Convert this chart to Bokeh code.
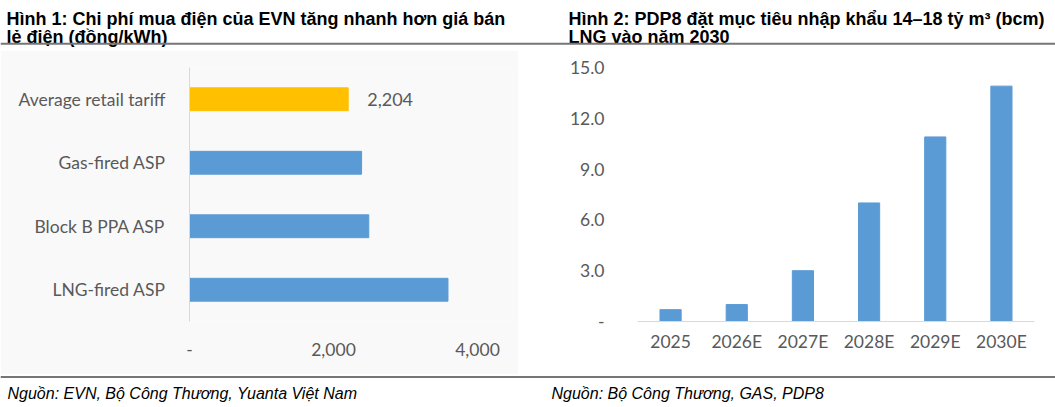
from bokeh.plotting import figure
from bokeh.models import Range1d, FactorRange, FixedTicker, NumeralTickFormatter, ColumnDataSource
from bokeh.layouts import column, row
from bokeh.core.properties import value
from bokeh.embed import file_html
from bokeh.resources import INLINE

# ---------------- data ----------------
title_left = ["Hình 1: Chi phí mua điện của EVN tăng nhanh hơn giá bán", "lẻ điện (đồng/kWh)"]
title_right = ["Hình 2: PDP8 đặt mục tiêu nhập khẩu 14–18 tỷ m³ (bcm)", "LNG vào năm 2030"]
source_left = "Nguồn: EVN, Bộ Công Thương, Yuanta Việt Nam"
source_right = "Nguồn: Bộ Công Thương, GAS, PDP8"

price_categories = ["Average retail tariff", "Gas-fired ASP", "Block B PPA ASP", "LNG-fired ASP"]
price_values = [2204, 2390, 2490, 3590]
price_ticks = [0, 2000, 4000]

lng_years = ["2025", "2026E", "2027E", "2028E", "2029E", "2030E"]
lng_import_bcm = [0.7, 1.0, 3.0, 7.0, 10.9, 13.9]
lng_ticks = [0, 3, 6, 9, 12, 15]

# ---------------- styles ----------------
BLUE = "#5B9BD5"
YELLOW = "#FFC000"
TXT = "#595959"
AXIS = "#D9D9D9"
RULE = "#767676"
price_colors = [YELLOW, BLUE, BLUE, BLUE]
TICK_FONT = "Lato"
TICK_SIZE = "17.5px"
HEAD_FONT = "Liberation Sans"

W = 1055
LEFT_W = 518
RIGHT_W = W - LEFT_W
HEAD_H = 50
MID_H = 324
FOOT_H = 31


def blank(width, height):
    p = figure(width=width, height=height, x_range=Range1d(0, width), y_range=Range1d(height, 0),
               x_axis_type=None, y_axis_type=None, toolbar_location=None, output_backend="svg",
               min_border=0)
    p.outline_line_color = None
    return p


def style_axis(ax, standoff):
    ax.major_tick_line_color = None
    ax.minor_tick_line_color = None
    ax.major_label_standoff = standoff
    ax.major_label_text_font = TICK_FONT
    ax.major_label_text_font_size = TICK_SIZE
    ax.major_label_text_color = TXT


# ---------------- header ----------------
head = blank(W, HEAD_H)
head.text(x=[6, 6, 568, 568], y=[18.5, 36.5, 18.5, 36.5], text=title_left + title_right,
          text_font=value(HEAD_FONT), text_font_style="bold", text_font_size="18px",
          text_color="#000000", text_baseline="alphabetic")
head.segment(x0=[0], y0=[43.2], x1=[W], y1=[43.2], line_color=RULE, line_width=2)

# ---------------- left chart ----------------
src_l = ColumnDataSource(dict(cat=price_categories, val=price_values, color=price_colors))
left = figure(width=LEFT_W, height=MID_H, y_range=FactorRange(factors=price_categories[::-1]),
              x_range=Range1d(0, 4500), toolbar_location=None, output_backend="svg",
              min_border_left=189, min_border_right=5, min_border_top=17, min_border_bottom=51)
left.outline_line_color = None
left.background_fill_color = "#f9f9f9"
left.border_fill_color = "#f9f9f9"
left.grid.visible = False
left.hbar(y="cat", right="val", left=0, height=0.36, color="color", source=src_l)
left.text(x=[price_values[0]], y=[price_categories[0]], text=[f"{price_values[0]:,}"],
          x_offset=19, text_baseline="middle", text_font=value(TICK_FONT),
          text_font_size="18px", text_color=TXT)
xa = left.xaxis[0]
xa.ticker = FixedTicker(ticks=price_ticks)
xa.formatter = NumeralTickFormatter(format="0,0")
xa.major_label_overrides = {0: "-"}
xa.axis_line_color = None
style_axis(xa, 15)
ya = left.yaxis[0]
ya.axis_line_color = AXIS
style_axis(ya, 18)

# ---------------- right chart ----------------
src_r = ColumnDataSource(dict(year=lng_years, val=lng_import_bcm))
right = figure(width=RIGHT_W, height=MID_H, x_range=FactorRange(factors=lng_years),
               y_range=Range1d(0, 15), toolbar_location=None, output_backend="svg",
               min_border_left=119, min_border_right=21, min_border_top=16, min_border_bottom=53)
right.outline_line_color = None
right.grid.visible = False
right.vbar(x="year", top="val", width=0.32, color=BLUE, source=src_r)
rya = right.yaxis[0]
rya.ticker = FixedTicker(ticks=lng_ticks)
rya.formatter = NumeralTickFormatter(format="0.0")
rya.major_label_overrides = {0: "-"}
rya.axis_line_color = None
style_axis(rya, 27)
rxa = right.xaxis[0]
rxa.axis_line_color = AXIS
style_axis(rxa, 3)

# ---------------- footer ----------------
foot = blank(W, FOOT_H)
foot.segment(x0=[0], y0=[2.5], x1=[W], y1=[2.5], line_color=RULE, line_width=2)
foot.text(x=[7, 551], y=[19, 19], text=[source_left, source_right],
          text_font=value(HEAD_FONT), text_font_style="italic", text_font_size="16px",
          text_color="#000000", text_baseline="alphabetic")

layout = column(head, row(left, right), foot)
open("out.html", "w").write(file_html(layout, INLINE))
